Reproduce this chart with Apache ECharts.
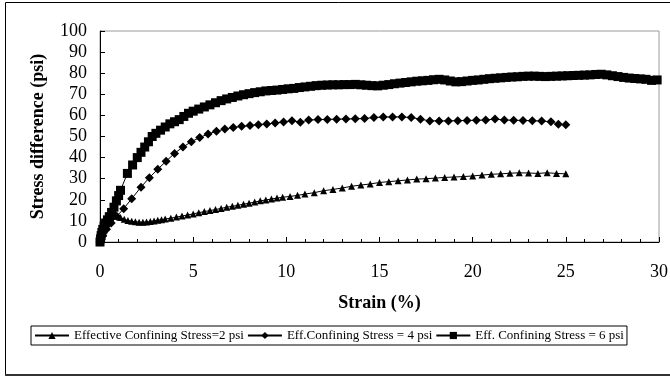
<!DOCTYPE html>
<html>
<head>
<meta charset="utf-8">
<title>Stress difference vs strain</title>
<script src="https://cdn.jsdelivr.net/npm/echarts@6/dist/echarts.min.js"></script>
<style>
  html, body { margin: 0; padding: 0; background: #fff; }
  #chart { width: 670px; height: 377px; }
</style>
</head>
<body>
<div id="chart"></div>
<script>
// Effective confining stress = 2 psi
const strain2 = [0, 0.1, 0.2, 0.35, 0.5, 0.7, 0.9, 1.1, 1.3, 1.5, 1.7, 1.9, 2.1, 2.3, 2.5, 2.7, 2.9, 3.1, 3.3, 3.5,
  3.8, 4.1, 4.4, 4.7, 5.0, 5.3, 5.6, 5.9, 6.2, 6.5, 6.8, 7.1, 7.4, 7.7, 8.0, 8.3, 8.6, 8.9, 9.2, 9.5,
  9.8, 10.2, 10.6, 11.0, 11.5, 12.0, 12.5, 13.0, 13.5, 14.0, 14.5, 15.0, 15.5, 16.0, 16.5, 17.0, 17.5, 18.0, 18.5, 19.0,
  19.5, 20.0, 20.5, 21.0, 21.5, 22.0, 22.5, 23.0, 23.5, 24.0, 24.5, 25.0];
const stress2 = [0, 3, 6, 9, 11, 12.2, 12.4, 11.6, 10.8, 10.2, 9.8, 9.6, 9.4, 9.4, 9.5, 9.7, 10.0, 10.3, 10.6, 10.9,
  11.3, 11.8, 12.3, 12.8, 13.3, 13.9, 14.4, 14.9, 15.4, 15.9, 16.5, 16.9, 17.4, 17.9, 18.4, 18.9, 19.5, 19.9, 20.4, 20.8,
  21.2, 21.6, 22.1, 22.7, 23.4, 24.3, 24.9, 25.6, 26.4, 27.0, 27.5, 28.2, 28.6, 29.0, 29.4, 29.8, 30.0, 30.3, 30.6, 30.8,
  31.0, 31.3, 31.7, 32.1, 32.3, 32.6, 32.8, 32.7, 32.5, 32.8, 32.5, 32.3];

// Effective confining stress = 4 psi
const strain4 = [0, 0.15, 0.35, 0.6, 0.9, 1.27, 1.7, 2.2, 2.65, 3.1, 3.55, 4.0, 4.45, 4.9, 5.35, 5.8, 6.25, 6.7, 7.15, 7.6,
  8.05, 8.5, 8.95, 9.4, 9.85, 10.3, 10.75, 11.2, 11.7, 12.2, 12.7, 13.2, 13.7, 14.2, 14.7, 15.2, 15.7, 16.2, 16.7, 17.2,
  17.7, 18.2, 18.7, 19.2, 19.7, 20.2, 20.7, 21.2, 21.7, 22.2, 22.7, 23.2, 23.7, 24.2, 24.6, 25.0];
const stress4 = [0, 3, 6, 9, 12.2, 15.8, 20.5, 26.0, 30.5, 34.5, 38.3, 42.0, 45.0, 47.5, 49.5, 51.2, 52.5, 53.5, 54.3, 54.8,
  55.2, 55.6, 55.9, 56.4, 56.9, 57.5, 56.8, 57.8, 58.0, 58.1, 58.2, 58.3, 58.4, 58.5, 59.0, 59.2, 59.3, 59.3, 59.0, 58.2,
  57.4, 57.4, 57.4, 57.5, 57.6, 57.7, 57.8, 58.3, 57.8, 57.7, 57.6, 57.5, 57.3, 57.0, 55.8, 55.6];

// Effective confining stress = 6 psi
const strain6 = [0, 0.03, 0.06, 0.1, 0.15, 0.22, 0.3, 0.4, 0.5, 0.62, 0.75, 0.88, 1.0, 1.1, 1.47, 1.75, 2.0, 2.2, 2.4, 2.6,
  2.8, 3.0, 3.25, 3.5, 3.75, 4.0, 4.25, 4.5, 4.75, 5.0, 5.3, 5.6, 5.9, 6.2, 6.5, 6.8, 7.1, 7.4, 7.7, 8.0,
  8.3, 8.6, 8.9, 9.2, 9.5, 9.8, 10.1, 10.4, 10.7, 11.0, 11.3, 11.6, 11.9, 12.2, 12.5, 12.8, 13.1, 13.4, 13.7, 14.0,
  14.3, 14.6, 14.9, 15.2, 15.5, 15.8, 16.1, 16.4, 16.7, 17.0, 17.3, 17.6, 17.9, 18.2, 18.5, 18.8, 19.1, 19.4, 19.7, 20.0,
  20.3, 20.6, 20.9, 21.2, 21.5, 21.8, 22.1, 22.4, 22.7, 23.0, 23.3, 23.6, 23.9, 24.2, 24.5, 24.8, 25.1, 25.4, 25.7, 26.0,
  26.3, 26.6, 26.9, 27.2, 27.5, 27.8, 28.1, 28.4, 28.7, 29.0, 29.3, 29.6, 29.9];
const stress6 = [0, 1.5, 3, 4.5, 6, 7.5, 9, 10.5, 12, 14, 16.5, 19.5, 22, 24.5, 32.5, 36.5, 40, 42.5, 45, 47.5,
  50, 51.5, 53, 54.5, 56, 57, 58, 59.5, 61, 62, 63, 64, 65, 66, 67, 67.8, 68.5, 69.2, 69.8, 70.3,
  70.8, 71.2, 71.6, 71.8, 72.0, 72.3, 72.6, 72.8, 73.2, 73.5, 73.8, 74.1, 74.3, 74.4, 74.5, 74.5, 74.6, 74.6, 74.7, 74.5,
  74.3, 74.1, 74.0, 74.3, 74.6, 75.0, 75.3, 75.6, 75.9, 76.2, 76.4, 76.6, 76.9, 77.1, 76.8, 76.3, 75.9, 76.0, 76.3, 76.6,
  76.8, 77.1, 77.4, 77.6, 77.8, 78.0, 78.2, 78.3, 78.5, 78.6, 78.6, 78.5, 78.4, 78.5, 78.6, 78.7, 78.8, 78.9, 79.0, 79.1,
  79.2, 79.4, 79.5, 79.2, 78.8, 78.4, 78.0, 77.7, 77.5, 77.3, 77.1, 76.6, 76.8];

const seriesNames = [
  'Effective Confining Stress=2 psi',
  'Eff.Confining Stress = 4 psi',
  'Eff. Confining Stress = 6 psi'
];

const xTicks = { min: 0, max: 30, interval: 5 };
const yTicks = { min: 0, max: 100, interval: 10 };

const SERIF = '"Liberation Serif", "Times New Roman", serif';

function pairs(xs, ys) {
  return xs.map((x, i) => [x, ys[i]]);
}

function lineSeries(name, data, symbol, size) {
  return {
    name: name,
    type: 'line',
    data: data,
    symbol: symbol,
    symbolSize: size,
    showAllSymbol: true,
    smooth: false,
    itemStyle: { color: '#000', borderWidth: 0 },
    lineStyle: { color: '#000', width: 1 },
    emphasis: { disabled: true },
    animation: false
  };
}

const chart = echarts.init(document.getElementById('chart'), null, { renderer: 'canvas' });

chart.setOption({
  backgroundColor: '#fff',
  animation: false,
  graphic: [
    {
      type: 'rect',
      shape: { x: 5.5, y: 2.5, width: 670, height: 372 },
      style: { fill: 'none', stroke: '#000', lineWidth: 1 },
      z: -1, silent: true
    },
    {
      type: 'line',
      shape: { x1: 5, y1: 375, x2: 670, y2: 375 },
      style: { stroke: '#333', lineWidth: 2 },
      z: -1, silent: true
    }
  ],
  grid: {
    left: 100, top: 31, right: 11, bottom: 135,
    show: true, borderColor: '#9a9a9a', borderWidth: 1,
    backgroundColor: 'transparent',
    containLabel: false,
    outerBoundsMode: 'none'
  },
  legend: {
    left: 31, top: 326,
    orient: 'horizontal',
    itemWidth: 34, itemHeight: 9, itemGap: 3,
    padding: [3, 3],
    borderColor: '#000', borderWidth: 1,
    backgroundColor: '#fff',
    selectedMode: false,
    textStyle: { fontFamily: SERIF, fontSize: 13, color: '#000' },
    data: seriesNames
  },
  xAxis: {
    type: 'value',
    min: xTicks.min, max: xTicks.max, interval: xTicks.interval,
    name: 'Strain (%)',
    nameLocation: 'middle',
    nameGap: 52,
    nameTextStyle: { fontFamily: SERIF, fontSize: 18, fontWeight: 'bold', color: '#000' },
    axisLine: { show: true, onZero: false, lineStyle: { color: '#000', width: 1 } },
    axisTick: { show: true, inside: true, length: 5, lineStyle: { color: '#000', width: 1 } },
    minorTick: { show: true, splitNumber: 5, length: 3, lineStyle: { color: '#000', width: 1 } },
    splitLine: { show: false },
    axisLabel: { margin: 21, fontFamily: SERIF, fontSize: 18, color: '#000', showMaxLabel: true, showMinLabel: true, hideOverlap: false }
  },
  yAxis: {
    type: 'value',
    min: yTicks.min, max: yTicks.max, interval: yTicks.interval,
    name: 'Stress difference (psi)',
    nameLocation: 'middle',
    nameRotate: 90,
    nameGap: 53,
    nameTextStyle: { fontFamily: SERIF, fontSize: 18, fontWeight: 'bold', color: '#000' },
    axisLine: { show: true, onZero: false, lineStyle: { color: '#000', width: 1 } },
    axisTick: { show: true, inside: true, length: 5, lineStyle: { color: '#000', width: 1 } },
    splitLine: { show: false },
    axisLabel: { margin: 13, fontFamily: SERIF, fontSize: 18, color: '#000', showMaxLabel: true, showMinLabel: true, hideOverlap: false }
  },
  series: [
    lineSeries(seriesNames[0], pairs(strain2, stress2), 'triangle', 7),
    lineSeries(seriesNames[1], pairs(strain4, stress4), 'diamond', 9),
    lineSeries(seriesNames[2], pairs(strain6, stress6), 'rect', 9)
  ]
});
</script>
</body>
</html>
